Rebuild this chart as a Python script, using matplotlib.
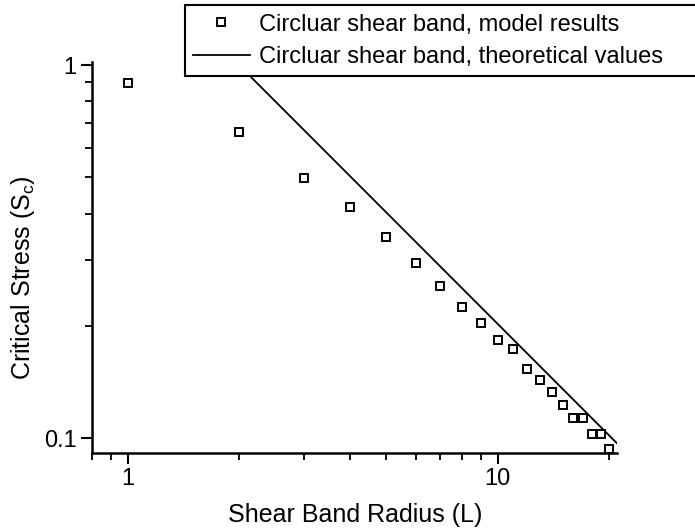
import matplotlib
matplotlib.use("Agg")
import matplotlib.pyplot as plt
from matplotlib.ticker import FixedLocator, FuncFormatter, NullFormatter

plt.rcParams['font.family'] = ['Liberation Sans', 'DejaVu Sans']
plt.rcParams['mathtext.default'] = 'regular'

# model results
radius = [1, 2, 3, 4, 5, 6, 7, 8, 9, 10, 11, 12, 13, 14, 15, 16, 17, 18, 19, 20]
stress = [0.896, 0.66, 0.499, 0.417, 0.345, 0.295, 0.255, 0.224, 0.204, 0.183,
          0.173, 0.153, 0.143, 0.133, 0.123, 0.113, 0.113, 0.1025, 0.1025, 0.0935]

# theoretical line end points
theory_x = [2.0, 21.0]
theory_y = [1.0, 0.097]

fig = plt.figure(figsize=(6.95, 5.31), dpi=100)
ax = fig.add_axes([0.1324, 0.147, 0.756, 0.736])

ax.plot(radius, stress, linestyle='none', marker='s', markersize=5.5,
        markerfacecolor='white', markeredgecolor='black', markeredgewidth=1.4,
        clip_on=False, label='Circluar shear band, model results', zorder=3)
ax.plot(theory_x, theory_y, color='black', linewidth=1.3,
        label='Circluar shear band, theoretical values')

ax.set_xscale('log')
ax.set_yscale('log')
ax.set_xlim(0.8, 21.1)
ax.set_ylim(0.0912, 1.019)

ax.xaxis.set_major_locator(FixedLocator([1, 10]))
ax.xaxis.set_minor_locator(FixedLocator([0.8, 0.9, 2, 3, 4, 5, 6, 7, 8, 9, 20]))
ax.yaxis.set_major_locator(FixedLocator([0.1, 1]))
ax.yaxis.set_minor_locator(FixedLocator([0.2, 0.3, 0.4, 0.5, 0.6, 0.7, 0.8, 0.9]))
ax.xaxis.set_major_formatter(FuncFormatter(lambda v, p: '%g' % v))
ax.yaxis.set_major_formatter(FuncFormatter(lambda v, p: '%g' % v))
ax.xaxis.set_minor_formatter(NullFormatter())
ax.yaxis.set_minor_formatter(NullFormatter())

ax.spines['top'].set_visible(False)
ax.spines['right'].set_visible(False)
for s in ['left', 'bottom']:
    ax.spines[s].set_linewidth(1.8)
ax.tick_params(which='major', direction='out', length=8, width=1.5,
               labelsize=17, pad=3)
ax.tick_params(which='minor', direction='out', length=5, width=1.3)

ax.set_xlabel('Shear Band Radius (L)', fontsize=18, labelpad=9)
ax.set_ylabel('Critical Stress (S$_c$)', fontsize=18)
ax.yaxis.set_label_coords(-0.105, 0.448)

leg = fig.legend(loc='upper left', bbox_to_anchor=(0.266, 0.0, 0.9, 0.99),
                 mode='expand', fontsize=17, frameon=True, fancybox=False,
                 edgecolor='black', framealpha=1, handlelength=2.4,
                 handletextpad=0.37, borderaxespad=0, labelspacing=0.45,
                 borderpad=0.35)
leg.get_frame().set_linewidth(1.5)

fig.savefig('out.png', dpi=100)
